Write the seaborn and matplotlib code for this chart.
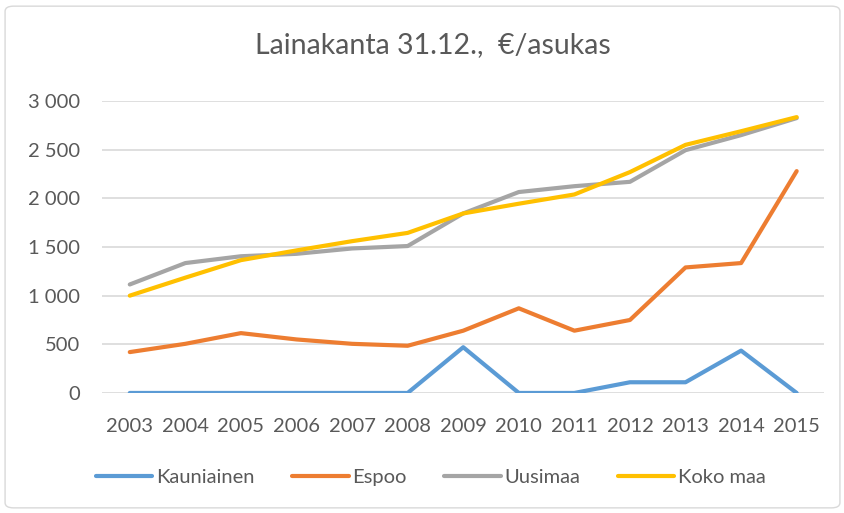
import pandas as pd
import seaborn as sns
import matplotlib.pyplot as plt
from matplotlib.patches import FancyBboxPatch

years = list(range(2003, 2016))
kauniainen = [0, 0, 0, 0, 0, 0, 470, 0, 0, 110, 110, 435, 0]
espoo = [420, 505, 615, 550, 505, 485, 640, 870, 640, 750, 1290, 1335, 2280]
uusimaa = [1115, 1335, 1405, 1430, 1485, 1510, 1845, 2065, 2125, 2170, 2495, 2650, 2825]
koko_maa = [1000, 1185, 1365, 1465, 1560, 1645, 1845, 1945, 2040, 2270, 2550, 2690, 2835]

names = ['Kauniainen', 'Espoo', 'Uusimaa', 'Koko maa']
colors = ['#5B9BD5', '#ED7D31', '#A5A5A5', '#FFC000']
yticks = [0, 500, 1000, 1500, 2000, 2500, 3000]

rows = []
for name, vals in zip(names, [kauniainen, espoo, uusimaa, koko_maa]):
    for y, v in zip(years, vals):
        rows.append({'vuosi': y, 'arvo': v, 'sarja': name})
df = pd.DataFrame(rows)

sns.set_style('white')
plt.rcParams['font.family'] = ['Lato', 'DejaVu Sans']

fig = plt.figure(figsize=(8.45, 5.13), dpi=100)
ax = fig.add_axes([0.1207, 0.234, 0.855, 0.569])

sns.lineplot(data=df, x='vuosi', y='arvo', hue='sarja', hue_order=names,
             palette=colors, linewidth=3, ax=ax, legend=True,
             solid_capstyle='round')

ax.set_xlim(2002.5, 2015.5)
ax.set_ylim(0, 3000)
ax.set_yticks(yticks)
ax.set_yticklabels([f'{v:,}'.replace(',', ' ') for v in yticks])
ax.set_xticks(years)
ax.set_xticklabels([str(y) for y in years])
ax.yaxis.grid(True, color='#D9D9D9', linewidth=1.2)
ax.set_axisbelow(True)
for s in ax.spines.values():
    s.set_visible(False)
ax.tick_params(axis='both', length=0, labelsize=14.5, colors='#595959')
ax.tick_params(axis='x', pad=18)
ax.tick_params(axis='y', pad=16)
ax.set_xlabel('')
ax.set_ylabel('')

fig.text(0.512, 0.912, 'Lainakanta 31.12.,  €/asukas', ha='center', va='center',
         fontsize=20.5, color='#595959')

handles, labels = ax.get_legend_handles_labels()
ax.legend(handles, labels, loc='center', bbox_to_anchor=(0.51, 0.07),
          bbox_transform=fig.transFigure, ncol=4, frameon=False,
          fontsize=14.5, labelcolor='#595959', handlelength=2.8,
          handletextpad=0.2, columnspacing=1.85)

border = FancyBboxPatch((0.006, 0.01), 0.988, 0.978, boxstyle='round,pad=0,rounding_size=0.01',
                        transform=fig.transFigure, facecolor='none',
                        edgecolor='#D9D9D9', linewidth=1)
fig.patches.append(border)

fig.savefig('out.png', dpi=100)
